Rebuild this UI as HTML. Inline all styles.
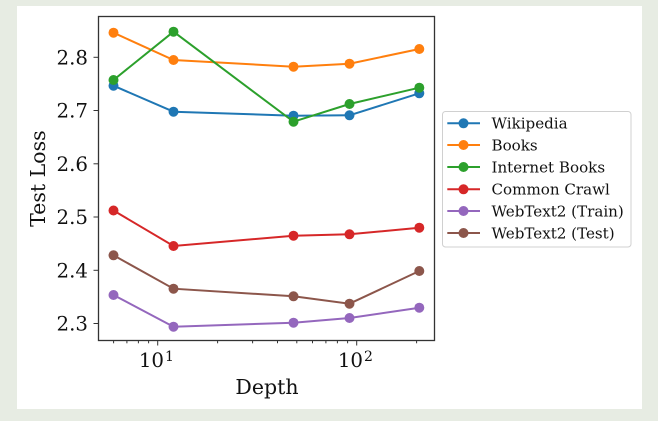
<!DOCTYPE html>
<html><head><meta charset="utf-8"><style>
html,body{margin:0;padding:0;background:#e7ece3;}
svg{display:block;}
text{font-family:"DejaVu Serif","Liberation Serif",serif;fill:#111;}
</style></head><body>
<svg width="658" height="421" viewBox="0 0 658 421" xmlns="http://www.w3.org/2000/svg">
<rect x="0" y="0" width="658" height="421" fill="#e7ece3"/>
<rect x="17" y="6" width="625" height="403" fill="#ffffff"/>

<!-- series -->
<polyline fill="none" stroke-width="2" stroke-linejoin="round" stroke="#1f77b4" points="113.5,85.7 173.5,111.7 293.5,115.7 349.5,115.3 419.3,93.3"/>
<g fill="#1f77b4"><circle cx="113.5" cy="85.7" r="5"/><circle cx="173.5" cy="111.7" r="5"/><circle cx="293.5" cy="115.7" r="5"/><circle cx="349.5" cy="115.3" r="5"/><circle cx="419.3" cy="93.3" r="5"/></g>

<polyline fill="none" stroke-width="2" stroke="#ff7f0e" points="113.5,32.7 173.5,60 293.5,66.7 349.5,63.7 419.3,49"/>
<g fill="#ff7f0e"><circle cx="113.5" cy="32.7" r="5"/><circle cx="173.5" cy="60" r="5"/><circle cx="293.5" cy="66.7" r="5"/><circle cx="349.5" cy="63.7" r="5"/><circle cx="419.3" cy="49" r="5"/></g>

<polyline fill="none" stroke-width="2" stroke="#2ca02c" points="113.5,80 173.5,31.7 293.5,121.7 349.5,104 419.3,87.7"/>
<g fill="#2ca02c"><circle cx="113.5" cy="80" r="5"/><circle cx="173.5" cy="31.7" r="5"/><circle cx="293.5" cy="121.7" r="5"/><circle cx="349.5" cy="104" r="5"/><circle cx="419.3" cy="87.7" r="5"/></g>

<polyline fill="none" stroke-width="2" stroke="#d62728" points="113.5,210.5 173.5,246 293.5,235.7 349.5,234.3 419.3,227.7"/>
<g fill="#d62728"><circle cx="113.5" cy="210.5" r="5"/><circle cx="173.5" cy="246" r="5"/><circle cx="293.5" cy="235.7" r="5"/><circle cx="349.5" cy="234.3" r="5"/><circle cx="419.3" cy="227.7" r="5"/></g>

<polyline fill="none" stroke-width="2" stroke="#9467bd" points="113.5,295 173.5,326.7 293.5,322.7 349.5,318 419.3,307.7"/>
<g fill="#9467bd"><circle cx="113.5" cy="295" r="5"/><circle cx="173.5" cy="326.7" r="5"/><circle cx="293.5" cy="322.7" r="5"/><circle cx="349.5" cy="318" r="5"/><circle cx="419.3" cy="307.7" r="5"/></g>

<polyline fill="none" stroke-width="2" stroke="#8c564b" points="113.5,255.3 173.5,288.7 293.5,296.3 349.5,303.7 419.3,271"/>
<g fill="#8c564b"><circle cx="113.5" cy="255.3" r="5"/><circle cx="173.5" cy="288.7" r="5"/><circle cx="293.5" cy="296.3" r="5"/><circle cx="349.5" cy="303.7" r="5"/><circle cx="419.3" cy="271" r="5"/></g>

<!-- axes frame -->
<rect x="98.5" y="16.5" width="336" height="324" fill="none" stroke="#333" stroke-width="1.3"/>

<!-- y ticks -->
<g stroke="#333" stroke-width="1">
<line x1="93.5" y1="323.5" x2="98.5" y2="323.5"/>
<line x1="93.5" y1="270.3" x2="98.5" y2="270.3"/>
<line x1="93.5" y1="217" x2="98.5" y2="217"/>
<line x1="93.5" y1="163.8" x2="98.5" y2="163.8"/>
<line x1="93.5" y1="110.5" x2="98.5" y2="110.5"/>
<line x1="93.5" y1="57.3" x2="98.5" y2="57.3"/>
</g>
<g font-size="19.8" text-anchor="end">
<text x="88" y="330.5">2.3</text>
<text x="88" y="277.3">2.4</text>
<text x="88" y="224">2.5</text>
<text x="88" y="170.8">2.6</text>
<text x="88" y="117.5">2.7</text>
<text x="88" y="64.3">2.8</text>
</g>

<!-- x ticks -->
<g stroke="#333" stroke-width="1">
<line x1="157.7" y1="340.5" x2="157.7" y2="345.5"/>
<line x1="356.7" y1="340.5" x2="356.7" y2="345.5"/>
<line x1="113.6" y1="340.5" x2="113.6" y2="343.3"/>
<line x1="126.9" y1="340.5" x2="126.9" y2="343.3"/>
<line x1="138.4" y1="340.5" x2="138.4" y2="343.3"/>
<line x1="148.6" y1="340.5" x2="148.6" y2="343.3"/>
<line x1="217.6" y1="340.5" x2="217.6" y2="343.3"/>
<line x1="252.6" y1="340.5" x2="252.6" y2="343.3"/>
<line x1="277.5" y1="340.5" x2="277.5" y2="343.3"/>
<line x1="296.8" y1="340.5" x2="296.8" y2="343.3"/>
<line x1="312.5" y1="340.5" x2="312.5" y2="343.3"/>
<line x1="325.9" y1="340.5" x2="325.9" y2="343.3"/>
<line x1="337.4" y1="340.5" x2="337.4" y2="343.3"/>
<line x1="347.6" y1="340.5" x2="347.6" y2="343.3"/>
<line x1="416.6" y1="340.5" x2="416.6" y2="343.3"/>
</g>
<text x="164" y="367" font-size="19.8" text-anchor="end">10</text>
<text x="165" y="361" font-size="14">1</text>
<text x="363" y="367" font-size="19.8" text-anchor="end">10</text>
<text x="364" y="361" font-size="14">2</text>

<!-- axis labels -->
<text x="267" y="394" font-size="20.5" text-anchor="middle">Depth</text>
<text transform="translate(45,178.6) rotate(-90)" font-size="20.5" text-anchor="middle">Test Loss</text>

<!-- legend -->
<rect x="442.5" y="111.5" width="188.5" height="135.5" rx="3" ry="3" fill="#ffffff" fill-opacity="0.8" stroke="#d0d0d0" stroke-width="1"/>
<g stroke-width="2">
<line x1="447.3" y1="123.3" x2="480" y2="123.3" stroke="#1f77b4"/>
<line x1="447.3" y1="145" x2="480" y2="145" stroke="#ff7f0e"/>
<line x1="447.3" y1="167" x2="480" y2="167" stroke="#2ca02c"/>
<line x1="447.3" y1="189.3" x2="480" y2="189.3" stroke="#d62728"/>
<line x1="447.3" y1="211" x2="480" y2="211" stroke="#9467bd"/>
<line x1="447.3" y1="233" x2="480" y2="233" stroke="#8c564b"/>
</g>
<circle cx="463.5" cy="123.3" r="5" fill="#1f77b4"/>
<circle cx="463.5" cy="145" r="5" fill="#ff7f0e"/>
<circle cx="463.5" cy="167" r="5" fill="#2ca02c"/>
<circle cx="463.5" cy="189.3" r="5" fill="#d62728"/>
<circle cx="463.5" cy="211" r="5" fill="#9467bd"/>
<circle cx="463.5" cy="233" r="5" fill="#8c564b"/>
<g font-size="15.1">
<text x="491.5" y="128.6">Wikipedia</text>
<text x="491.5" y="150.3">Books</text>
<text x="491.5" y="172.3">Internet Books</text>
<text x="491.5" y="194.6">Common Crawl</text>
<text x="491.5" y="216.3">WebText2 (Train)</text>
<text x="491.5" y="238.3">WebText2 (Test)</text>
</g>
</svg>
</body></html>
